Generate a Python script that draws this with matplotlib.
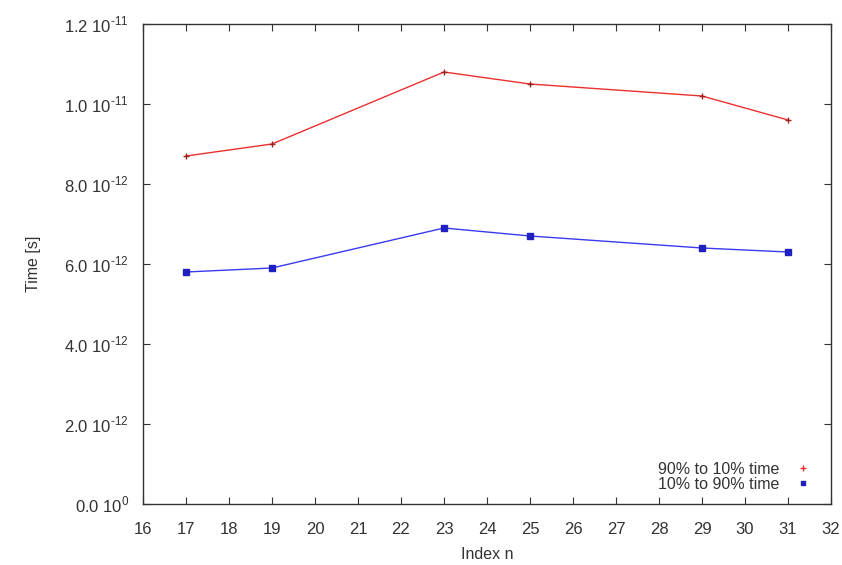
import matplotlib.pyplot as plt
from matplotlib.lines import Line2D

plt.rcParams['font.family'] = ['Liberation Sans', 'DejaVu Sans']
plt.rcParams['mathtext.fontset'] = 'custom'
plt.rcParams['mathtext.rm'] = 'Liberation Sans'

# rise / fall times per index
index_n = [17, 19, 23, 25, 29, 31]
fall_time = [8.7e-12, 9.0e-12, 10.8e-12, 10.5e-12, 10.2e-12, 9.6e-12]
rise_time = [5.8e-12, 5.9e-12, 6.9e-12, 6.7e-12, 6.4e-12, 6.3e-12]

y_ticks = [0, 2e-12, 4e-12, 6e-12, 8e-12, 1.0e-11, 1.2e-11]
y_labels = ['0.0 10$^{0}$', '2.0 10$^{\u201012}$', '4.0 10$^{\u201012}$',
            '6.0 10$^{\u201012}$', '8.0 10$^{\u201012}$', '1.0 10$^{\u201011}$',
            '1.2 10$^{\u201011}$']

fig = plt.figure(figsize=(8.42, 5.65), dpi=100)
ax = fig.add_axes([143 / 842, 61 / 565, 688 / 842, 480 / 565])

ax.plot(index_n, fall_time, color='#e8312f', lw=1.0, marker='+', ms=5,
        mec='#a02020', mew=1.0)
ax.plot(index_n, rise_time, color='#3a3af0', lw=1.0, marker='s', ms=4,
        mfc='#2020c0', mec='#2020c0')

ax.set_xlim(16, 32)
ax.set_ylim(0, 1.2e-11)
ax.set_xticks(range(16, 33))
ax.set_yticks(y_ticks)
ax.set_yticklabels(y_labels)

ax.tick_params(direction='in', top=True, right=True, length=5, width=0.8,
               labelsize=12, colors='#333333')
ax.tick_params(axis='x', pad=13)
ax.tick_params(axis='y', pad=10)
for s in ax.spines.values():
    s.set_linewidth(1.0)
    s.set_color('#333333')

ax.set_xlabel('Index n', fontsize=11.5, color='#333333', labelpad=7)
ax.set_ylabel('Time [s]', fontsize=11.5, color='#333333', labelpad=17)

handles = [Line2D([], [], ls='none', marker='+', ms=5, color='#e8312f'),
           Line2D([], [], ls='none', marker='s', ms=3.5, color='#2020c0')]
ax.legend(handles, ['90% to 10% time', '10% to 90% time'], loc='lower right',
          bbox_to_anchor=(0.991, 0.0), frameon=False, markerfirst=False,
          fontsize=11.5, handlelength=1.2, handletextpad=0.9,
          labelspacing=0.0, borderaxespad=0.35, labelcolor='#333333')

fig.savefig('out.png', dpi=100)
